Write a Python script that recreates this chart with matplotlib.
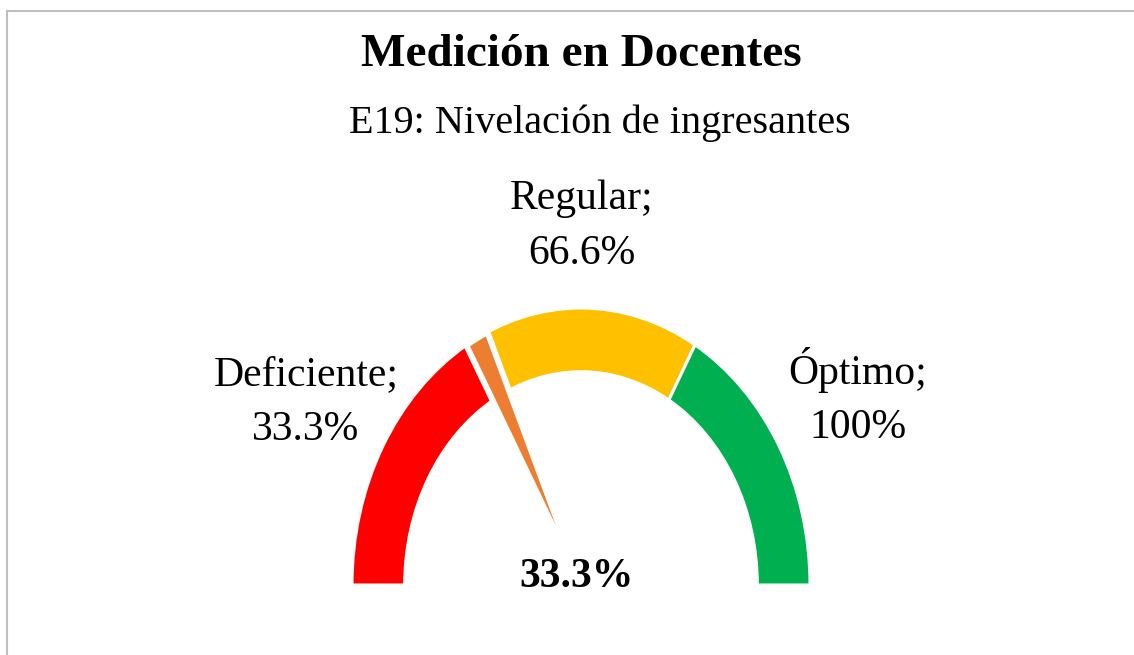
import matplotlib
matplotlib.use("Agg")
import matplotlib.pyplot as plt
from matplotlib.patches import Wedge
from matplotlib.lines import Line2D

# ---- data ----
categories = ["Deficiente", "Regular", "Óptimo"]
limits = [33.3, 66.6, 100.0]          # upper bound of each band (%)
band_labels = ["33.3%", "66.6%", "100%"]
colors = ["#FF0000", "#FFC000", "#00B050"]
value = 33.3                           # measured value (%)
value_label = "33.3%"
needle_width = 3.3                     # needle thickness in % units
title = "Medición en Docentes"
subtitle = "E19: Nivelación de ingresantes"

W, H, DPI = 1134, 655, 100
fig = plt.figure(figsize=(W / DPI, H / DPI), dpi=DPI)
fig.patch.set_facecolor("white")
ax = fig.add_axes([0, 0, 1, 1])
ax.set_axis_off()

# axes scales: x unit = 229 px, y unit = 277 px (chart is stretched vertically)
cx_px, cy_px = 581, 585
ux, uy = 229.0, 277.0
ax.set_xlim(-cx_px / ux, (W - cx_px) / ux)
ax.set_ylim(-(H - cy_px) / uy, cy_px / uy)

R_out, R_in = 1.0, 0.77

def ang(p):
    return 180.0 - p * 1.8

lo = 0.0
for hi, c in zip(limits, colors):
    ax.add_patch(Wedge((0, 0), R_out, ang(hi), ang(lo), width=R_out - R_in,
                       facecolor=c, edgecolor="white", linewidth=2.2))
    lo = hi

# needle
ax.add_patch(Wedge((0, 0), R_out, ang(value + needle_width), ang(value),
                   facecolor="#ED7D31", edgecolor="white", linewidth=4.3,
                   zorder=3))

font = "Liberation Serif"

def px(x, y):
    return (x / W, 1 - y / H)

fig.text(*px(581, 55), title, ha="center", va="center", fontsize=34,
         fontweight="bold", family=font)
fig.text(*px(600, 123), subtitle, ha="center", va="center", fontsize=29,
         family=font)

label_pos = [(306, 402), (582, 226), (858, 397)]
for (x, y), cat, lab in zip(label_pos, categories, band_labels):
    fig.text(*px(x, y), f"{cat};\n{lab}", ha="center", va="center",
             fontsize=30, family=font, linespacing=1.55)

fig.text(*px(577, 577), value_label, ha="center", va="center", fontsize=30,
         fontweight="bold", family=font)

# chart border (top and left visible)
fig.add_artist(Line2D([7 / W, 1], [1 - 11 / H, 1 - 11 / H],
                      transform=fig.transFigure, color="#BFBFBF", lw=1.5))
fig.add_artist(Line2D([7 / W, 7 / W], [0, 1 - 11 / H],
                      transform=fig.transFigure, color="#BFBFBF", lw=1.5))

fig.savefig("out.png", dpi=DPI, facecolor="white")
